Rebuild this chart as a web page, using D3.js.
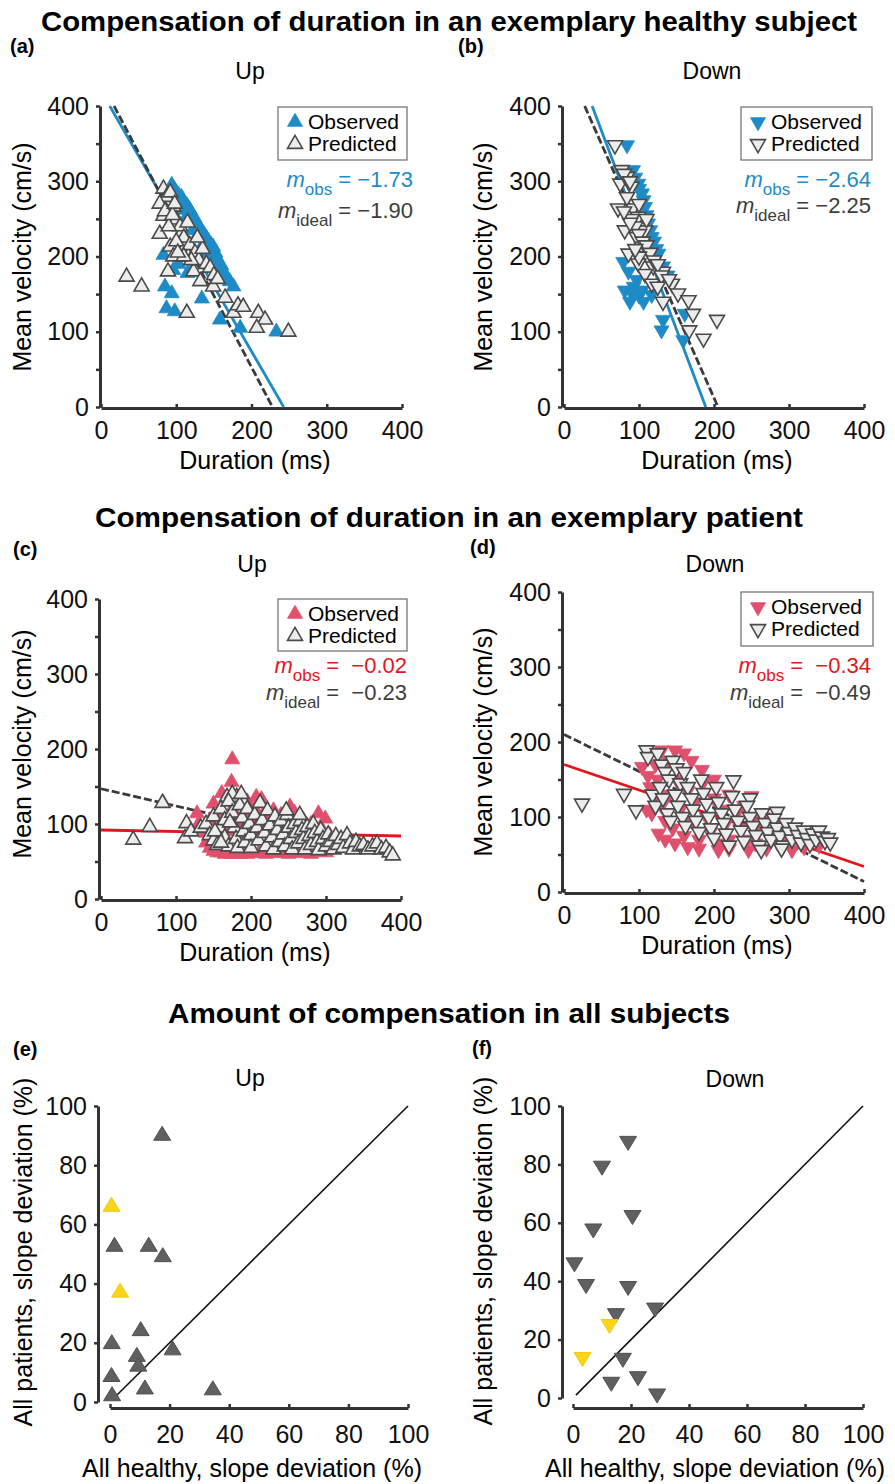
<!DOCTYPE html>
<html>
<head>
<meta charset="utf-8">
<script src="https://cdn.jsdelivr.net/npm/d3@7"></script>
<style>
body { margin: 0; background: #fff; }
svg { display: block; font-family: "Liberation Sans", Arial, sans-serif; }
.axis path.domain { stroke: #333; stroke-width: 3; }
.axis line { stroke: #333; stroke-width: 2.5; }
.axis text { font-size: 25px; fill: #111; font-family: "Liberation Sans", Arial, sans-serif; }
</style>
</head>
<body>
<div id="chart-area"></div>
<script>
// tick values
const durationTicks = [0, 100, 200, 300, 400];
const velocityTicks = [0, 50, 100, 150, 200, 250, 300, 350, 400];
const pctTicks = [0, 20, 40, 60, 80, 100];

// (a) healthy, up  [duration ms, velocity cm/s]
const aObserved = [[94,295],[100,285],[107,279],[110,272],[114,268],[118,262],[120,257],[125,250],[127,244],[130,240],
  [136,231],[140,225],[143,220],[148,212],[149,213],[152,205],[145,200],[156,191],[160,188],[162,180],[165,176],[171,167],
  [176,160],[83,202],[96,182],[103,190],[115,178],[120,180],[85,160],[94,151],[87,131],[98,127],[134,144],[158,116],
  [185,105],[233,100],[105,262],[112,250],[122,235],[128,228],[135,215],[140,205],[97,290],[103,282],[116,265],[132,236],
  [146,216],[154,198],[168,170]];
const aPredicted = [[83,290],[87,279],[78,270],[96,266],[83,254],[100,249],[78,230],[107,231],[92,213],[112,213],[96,200],
  [116,200],[89,180],[123,180],[132,167],[149,160],[34,173],[54,160],[114,125],[165,145],[176,125],[182,135],[189,133],
  [209,125],[218,116],[207,105],[249,100],[105,240],[110,225],[118,215],[125,205],[130,195],[140,190],[145,185],[150,175],
  [155,170],[120,195],[135,210],[128,225],[100,220],[90,240],[85,260],[95,255],[110,200],[102,205],[92,285],[98,270],[115,245]];

// (b) healthy, down
const bObserved = [[84,348],[92,315],[99,297],[104,284],[108,266],[112,244],[117,226],[126,204],[132,187],[79,193],[86,180],
  [97,169],[81,155],[90,152],[104,155],[88,140],[106,140],[117,149],[132,116],[130,102],[161,124],[159,89],[95,305],
  [100,290],[106,275],[110,255],[115,235],[120,220],[123,210],[100,148],[93,160],[138,175]];
const bPredicted = [[68,348],[77,315],[84,306],[75,297],[90,293],[72,264],[92,264],[84,279],[99,253],[81,235],[97,226],
  [108,235],[86,204],[104,213],[112,200],[99,191],[119,187],[132,180],[108,177],[117,164],[144,164],[132,140],[152,151],
  [166,142],[172,124],[167,102],[186,91],[204,116],[90,250],[95,240],[100,230],[105,220],[110,215],[115,205],[120,195],
  [125,190],[100,200],[95,210],[88,245],[80,260],[100,270],[110,250],[130,175],[140,170],[125,160],[80,310],[88,300]];

// (c) patient, up
const cObserved = [[175,186],[174,156],[161,141],[150,127],[83,128],[128,114],[207,136],[214,133],[252,123],[258,115],
  [290,114],[299,107],[195,130],[185,125],[230,118],[240,112],[270,105],[280,100],
  [140,75],[145,68],[150,64],[155,62],[160,62],[165,60],[170,61],[175,60],[180,62],[185,60],[190,61],[195,60],[200,62],
  [210,61],[220,60],[230,62],[240,61],[250,60],[260,61],[270,62],[280,60],[290,63],[300,62],
  [130,100],[135,92],[140,88],[145,105],[150,95],[155,85],[160,110],[165,98],[170,90],[175,120],[180,105],[185,95],
  [190,85],[195,110],[200,100],[205,120],[210,90],[215,110],[220,95],[225,105],[235,98],[245,92],[255,100],[265,90],
  [275,95],[285,88],[295,92],[305,85],[310,80]];
const cPredicted = [[43,79],[65,96],[82,128],[112,81],[114,101],[120,90],[133,95],[168,136],[181,136],[175,140],[190,130],
  [140,100],[145,85],[150,78],[155,72],[150,110],[158,95],[160,120],[165,105],[165,82],[170,70],[170,130],[175,115],
  [178,95],[180,80],[182,68],[185,125],[188,108],[190,90],[192,75],[195,120],[198,100],[200,85],[200,68],[205,112],
  [208,95],[210,78],[212,128],[215,105],[218,88],[220,70],[222,118],[225,98],[228,82],[230,66],[232,110],[235,92],
  [238,76],[240,104],[243,86],[245,70],[248,112],[250,95],[253,80],[255,66],[258,100],[260,88],[263,74],[266,104],
  [268,92],[270,80],[272,66],[275,96],[278,84],[280,72],[283,100],[285,88],[288,76],[290,65],[293,92],[296,80],[300,70],
  [303,86],[306,76],[310,66],[313,84],[316,72],[320,80],[323,68],[328,85],[332,74],[336,66],[340,76],[345,70],[350,72],
  [356,66],[362,70],[368,74],[374,66],[380,68],[385,62],[389,58],[247,118],[265,112],[152,90],[160,75],[172,102],[187,140]];

// (d) patient, down
const dObserved = [[104,167],[130,189],[148,189],[160,185],[184,163],[200,150],[220,130],[250,128],[110,110],[117,105],
  [126,78],[135,70],[148,65],[165,60],[180,58],[206,56],[220,58],[246,56],[270,58],[304,56],[320,60],[340,62],
  [115,140],[120,125],[125,150],[130,115],[135,95],[140,130],[145,85],[150,150],[155,110],[160,75],[165,135],[170,95],
  [175,120],[180,70],[185,145],[190,100],[195,80],[200,125],[205,65],[210,110],[215,90],[220,70],[230,105],[235,85],
  [240,115],[245,70],[250,95],[255,65],[260,85],[265,100],[275,75],[280,90],[285,65],[295,80],[300,70],[310,75],
  [320,72],[330,70],[112,155],[122,170],[140,175],[170,175]];
const dPredicted = [[24,118],[80,131],[96,109],[110,189],[112,180],[226,149],[248,125],[284,107],
  [125,185],[130,170],[135,160],[140,150],[145,175],[150,165],[155,145],[160,160],[118,130],[122,115],[128,140],
  [132,125],[138,105],[142,95],[148,130],[152,115],[158,100],[162,88],[165,140],[170,125],[172,110],[176,95],[180,80],
  [183,150],[186,132],[190,118],[193,100],[196,85],[200,72],[203,140],[206,120],[210,105],[213,92],[216,78],[220,62],
  [224,128],[228,110],[232,95],[236,82],[240,68],[244,115],[248,100],[252,88],[256,76],[260,62],[264,105],[268,92],
  [272,80],[276,70],[280,98],[284,86],[288,75],[292,62],[296,92],[300,80],[304,70],[308,86],[312,76],[316,66],[320,82],
  [324,72],[328,64],[332,78],[336,70],[340,82],[344,74],[348,68],[352,72],[355,66],[263,56],[290,58]];

// fitted lines: slope, intercept
const fitSlopes = { a: [-1.73, -1.90], b: [-2.64, -2.25], c: [-0.02, -0.23], d: [-0.34, -0.49] };
const fitIntercepts = { a: [420, 433], b: [499, 462], c: [92, 147], d: [170, 210] };
const slopeLabels = { a: ["−1.73", "−1.90"], b: ["−2.64", "−2.25"], c: ["−0.02", "−0.23"], d: ["−0.34", "−0.49"] };

// (e), (f) slope deviation in %  [healthy, patients]
const eGray = [[17.5,90],[1.5,52.5],[13,52.5],[17.7,49],[10.3,24],[0.6,19.6],[21,17.5],[9,15.3],[9.5,12],[0.5,8.5],
  [11.7,4.3],[34.5,4],[0.7,2]];
const eYellow = [[0.5,66],[3.4,37]];
const fGray = [[19,88],[10,79.5],[20.5,62.6],[7,58],[0.5,46.4],[4.5,39],[19,38.3],[28.3,30.9],[14.8,29],[17.2,13.7],
  [22.4,7.4],[13.2,5.5],[29,1.5]];
const fYellow = [[12.6,25.3],[3.3,14]];
const identity = [1, 100];

const BLUE = "#1e8bc7", RED_FILL = "#e0506c", RED = "#e3161d", GREY_TXT = "#3d3d3d";

const svg = d3.select("#chart-area")
    .append("svg")
    .attr("width", 895)
    .attr("height", 1484);
svg.append("rect").attr("width", 895).attr("height", 1484).attr("fill", "#fff");

const upTri = (w, h) => `M0,${-h * 2 / 3}L${w / 2},${h / 3}L${-w / 2},${h / 3}Z`;
const downTri = (w, h) => `M0,${h * 2 / 3}L${w / 2},${-h / 3}L${-w / 2},${-h / 3}Z`;

// section titles
const titles = [
    { t: "Compensation of duration in an exemplary healthy subject", y: 31, len: 816 },
    { t: "Compensation of duration in an exemplary patient", y: 527, len: 708 },
    { t: "Amount of compensation in all subjects", y: 1023, len: 562 }
];
titles.forEach(d => {
    svg.append("text")
        .attr("x", 449)
        .attr("y", d.y)
        .attr("text-anchor", "middle")
        .attr("font-size", "28px")
        .attr("font-weight", "bold")
        .attr("textLength", d.len)
        .attr("lengthAdjust", "spacingAndGlyphs")
        .style("font-family", "'Liberation Sans Narrow', 'Liberation Sans', Arial, sans-serif")
        .text(d.t);
});

let panelHead = (p) => {
    svg.append("text")
        .attr("x", p.labX).attr("y", p.labY)
        .attr("font-size", "20px").attr("font-weight", "bold")
        .text(p.label);
    svg.append("text")
        .attr("x", p.headX).attr("y", p.headY)
        .attr("text-anchor", "middle")
        .attr("font-size", "23px")
        .text(p.head);
};

let drawAxes = (p, x, y, xTicks, yTicks, xTitle, yTitle, xPad) => {
    svg.append("g")
        .attr("class", "axis")
        .attr("transform", "translate(" + p.yAxisX + ",0)")
        .call(d3.axisLeft(y).tickValues(yTicks).tickSizeInner(4).tickSizeOuter(0).tickPadding(7)
            .tickFormat(d => d % (yTicks[yTicks.length - 1] / 4 === 25 ? 20 : 100) === 0 ? d : ""));
    svg.append("g")
        .attr("class", "axis")
        .attr("transform", "translate(0," + p.xAxisY + ")")
        .call(d3.axisBottom(x).tickValues(xTicks).tickSizeInner(-4).tickSizeOuter(0).tickPadding(xPad));
    svg.append("text")
        .attr("x", p.xTitleX).attr("y", p.xAxisY + p.xTitleDy)
        .attr("text-anchor", "middle")
        .attr("font-size", "25px")
        .text(xTitle);
    svg.append("text")
        .attr("transform", "translate(" + p.yTitleX + "," + p.yTitleY + ") rotate(-90)")
        .attr("text-anchor", "middle")
        .attr("font-size", "25px")
        .text(yTitle);
};

let drawDuration = (p) => {
    const x = d3.scaleLinear().domain([0, 400]).range(p.xr);
    const y = d3.scaleLinear().domain([0, 400]).range(p.yr);
    panelHead(p);
    drawAxes(p, x, y, durationTicks, velocityTicks, "Duration (ms)", "Mean velocity (cm/s)", 13);

    const col = p.healthy ? BLUE : RED_FILL;
    const lineCol = p.healthy ? BLUE : RED;
    const tri = p.up ? upTri : downTri;

    // fit lines (observed solid, ideal dashed)
    const ms = fitSlopes[p.key], bs = fitIntercepts[p.key];
    ms.forEach((m, i) => {
        const b = bs[i];
        const x0 = Math.max(0, (400 - b) / m);
        const x1 = Math.min(400, -b / m);
        svg.append("line")
            .attr("x1", x(x0)).attr("y1", y(m * x0 + b))
            .attr("x2", x(x1)).attr("y2", y(m * x1 + b))
            .attr("stroke", i === 0 ? lineCol : "#3a3a3a")
            .attr("stroke-width", 2.8)
            .attr("stroke-dasharray", i === 0 ? null : "8,3");
    });

    svg.append("g").selectAll("path")
        .data(p.obs)
        .enter()
        .append("path")
        .attr("d", tri(15, 13))
        .attr("transform", d => "translate(" + x(d[0]) + "," + y(d[1]) + ")")
        .attr("fill", col)
        .attr("stroke", col)
        .attr("stroke-width", 0.8);
    svg.append("g").selectAll("path")
        .data(p.pred)
        .enter()
        .append("path")
        .attr("d", tri(15, 13))
        .attr("transform", d => "translate(" + x(d[0]) + "," + y(d[1]) + ")")
        .attr("fill", "#ececec")
        .attr("stroke", "#4a4a4a")
        .attr("stroke-width", 1.6);

    // legend
    const lg = svg.append("g").attr("transform", "translate(" + p.leg[0] + "," + p.leg[1] + ")");
    lg.append("rect")
        .attr("width", p.leg[2]).attr("height", p.leg[3])
        .attr("fill", "#fff").attr("stroke", "#777").attr("stroke-width", 1.3);
    lg.append("path").attr("d", tri(15, 13)).attr("transform", "translate(17,15)")
        .attr("fill", col).attr("stroke", col).attr("stroke-width", 0.8);
    lg.append("path").attr("d", tri(15, 13)).attr("transform", "translate(17,37)")
        .attr("fill", "#ececec").attr("stroke", "#4a4a4a").attr("stroke-width", 1.6);
    lg.append("text").attr("x", 30).attr("y", 22).attr("font-size", "21px").text("Observed");
    lg.append("text").attr("x", 30).attr("y", 44).attr("font-size", "21px").text("Predicted");

    // slope text
    const gap = p.healthy ? " = " : " =  ";
    [["obs", p.healthy ? BLUE : RED, slopeLabels[p.key][0], p.mY[0]],
     ["ideal", GREY_TXT, slopeLabels[p.key][1], p.mY[1]]].forEach(s => {
        const t = svg.append("text")
            .attr("x", p.mX).attr("y", s[3])
            .attr("text-anchor", "end")
            .attr("font-size", "22px")
            .attr("fill", s[1])
            .style("white-space", "pre");
        t.append("tspan").attr("font-style", "italic").text("m");
        t.append("tspan").attr("font-size", "17px").attr("dy", 8).text(s[0]);
        t.append("tspan").attr("dy", -8).text(gap + s[2]);
    });
};

let drawDeviation = (p) => {
    const x = d3.scaleLinear().domain([0, 100]).range(p.xr);
    const y = d3.scaleLinear().domain([0, 100]).range(p.yr);
    panelHead(p);
    drawAxes(p, x, y, pctTicks, pctTicks, "All healthy, slope deviation (%)", "All patients, slope deviation (%)", 17);
    svg.append("line")
        .attr("x1", x(identity[0])).attr("y1", y(identity[0]))
        .attr("x2", x(identity[1])).attr("y2", y(identity[1]))
        .attr("stroke", "#111").attr("stroke-width", 1.6);
    const tri = p.up ? upTri : downTri;
    [[p.gray, "#606060", "#505050"], [p.yellow, "#f8d51a", "#f0cc10"]].forEach(s => {
        svg.append("g").selectAll("path")
            .data(s[0])
            .enter()
            .append("path")
            .attr("d", tri(17, 14))
            .attr("transform", d => "translate(" + x(d[0]) + "," + y(d[1]) + ")")
            .attr("fill", s[1])
            .attr("stroke", s[2])
            .attr("stroke-width", 1);
    });
};

drawDuration({ key: "a", healthy: true, up: true, obs: aObserved, pred: aPredicted,
    xr: [101, 402], yr: [407, 106], yAxisX: 100, xAxisY: 408,
    label: "(a)", labX: 10, labY: 53, head: "Up", headX: 250, headY: 79,
    xTitleX: 255, xTitleDy: 61, yTitleX: 31, yTitleY: 257,
    leg: [278, 107, 129, 53], mX: 413, mY: [187, 218] });
drawDuration({ key: "b", healthy: true, up: false, obs: bObserved, pred: bPredicted,
    xr: [564, 864], yr: [407, 106], yAxisX: 562, xAxisY: 408,
    label: "(b)", labX: 458, labY: 53, head: "Down", headX: 712, headY: 79,
    xTitleX: 717, xTitleDy: 61, yTitleX: 492, yTitleY: 257,
    leg: [741, 107, 131, 53], mX: 871, mY: [187, 213] });
drawDuration({ key: "c", healthy: false, up: true, obs: cObserved, pred: cPredicted,
    xr: [101, 401], yr: [899, 599], yAxisX: 99, xAxisY: 900,
    label: "(c)", labX: 13, labY: 556, head: "Up", headX: 252, headY: 572,
    xTitleX: 255, xTitleDy: 61, yTitleX: 31, yTitleY: 744,
    leg: [278, 599, 129, 52], mX: 407, mY: [673, 700] });
drawDuration({ key: "d", healthy: false, up: false, obs: dObserved, pred: dPredicted,
    xr: [564, 864], yr: [892, 592], yAxisX: 562, xAxisY: 893,
    label: "(d)", labX: 470, labY: 554, head: "Down", headX: 715, headY: 572,
    xTitleX: 717, xTitleDy: 61, yTitleX: 492, yTitleY: 742,
    leg: [741, 592, 132, 54], mX: 871, mY: [673, 700] });
drawDeviation({ up: true, gray: eGray, yellow: eYellow,
    xr: [110, 408], yr: [1402, 1106], yAxisX: 98, xAxisY: 1408,
    label: "(e)", labX: 13, labY: 1056, head: "Up", headX: 250, headY: 1086,
    xTitleX: 252, xTitleDy: 69, yTitleX: 32, yTitleY: 1252 });
drawDeviation({ up: false, gray: fGray, yellow: fYellow,
    xr: [573, 863], yr: [1398, 1106], yAxisX: 562, xAxisY: 1408,
    label: "(f)", labX: 472, labY: 1055, head: "Down", headX: 735, headY: 1087,
    xTitleX: 715, xTitleDy: 69, yTitleX: 492, yTitleY: 1251 });
</script>
</body>
</html>
